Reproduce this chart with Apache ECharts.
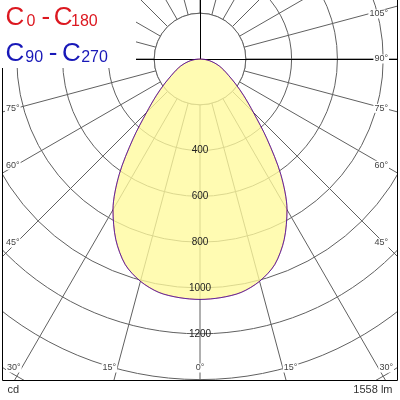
<!DOCTYPE html>
<html>
<head>
<meta charset="utf-8">
<script src="https://cdn.jsdelivr.net/npm/echarts@6/dist/echarts.min.js"></script>
<style>
html, body { margin: 0; padding: 0; background: #fff; }
#chart { width: 400px; height: 400px; }
</style>
</head>
<body>
<div id="chart"></div>
<script>
// gamma angle from nadir (deg) and luminous intensity (cd) per C-plane
const gammaAngles = [0, 5, 10, 15, 20, 25, 30, 35, 40, 45, 50, 55, 60, 65, 70, 75, 80, 85, 90];
const intensityC0 = [1050, 1046, 1035, 1005, 955, 870, 760, 615, 455, 330, 250, 190, 145, 115, 90, 65, 42, 20, 0];
const intensityC180 = [1050, 1046, 1035, 1005, 955, 870, 760, 615, 455, 330, 250, 190, 145, 115, 90, 65, 42, 20, 0];
const intensityC90 = [1050, 1046, 1035, 1005, 955, 870, 760, 615, 455, 330, 250, 190, 145, 115, 90, 65, 42, 20, 0];
const intensityC270 = [1050, 1046, 1035, 1005, 955, 870, 760, 615, 455, 330, 250, 190, 145, 115, 90, 65, 42, 20, 0];

// tick labels
const radiusLabels = [400, 600, 800, 1000, 1200];
const angleLabelsRight = [0, 15, 30, 45, 60, 75, 90, 105];
const angleLabelsLeft = [15, 30, 45, 60, 75];
const unitLabel = 'cd';
const fluxLabel = '1558 lm';

const CX = 200, CY = 59;
const PX_PER_CD = 0.229;
const R_MAX = 1700;
const GRID = '#606060';
const FONT = 'Liberation Sans, Arial, sans-serif';

// one C-plane pair -> closed outline: left half (360 - gamma) then right half
function plane(rightVals, leftVals) {
  const pts = [];
  for (let i = gammaAngles.length - 1; i > 0; i--) {
    pts.push([leftVals[i], 360 - gammaAngles[i]]);
  }
  for (let i = 0; i < gammaAngles.length; i++) {
    pts.push([rightVals[i], gammaAngles[i]]);
  }
  return pts;
}

const chart = echarts.init(document.getElementById('chart'));

const option = {
  animation: false,
  polar: { center: [CX, CY], radius: R_MAX * PX_PER_CD },
  angleAxis: {
    type: 'value', min: 0, max: 360, interval: 15,
    startAngle: 270, clockwise: false,
    axisLine: { show: false }, axisTick: { show: false }, axisLabel: { show: false },
    splitLine: { show: true, lineStyle: { color: GRID, width: 1 } }
  },
  radiusAxis: {
    type: 'value', min: 0, max: R_MAX, interval: 200,
    axisLine: { show: false }, axisTick: { show: false }, axisLabel: { show: false },
    splitLine: { show: true, lineStyle: { color: GRID, width: 1 } }
  },
  series: [
    {
      name: 'C0 - C180', type: 'line', coordinateSystem: 'polar',
      data: plane(intensityC0, intensityC180),
      symbol: 'none', smooth: 0.3, z: 2,
      lineStyle: { color: '#e00000', width: 1, opacity: 0.6 },
      areaStyle: { color: '#fffa9c', opacity: 0.78 }
    },
    {
      name: 'C90 - C270', type: 'line', coordinateSystem: 'polar',
      data: plane(intensityC90, intensityC270),
      symbol: 'none', smooth: 0.3, z: 3,
      lineStyle: { color: '#0000d0', width: 1, opacity: 0.6 }
    }
  ]
};
chart.setOption(option);

// graphic overlay: inner disk, main axes, frame, labels
const center = chart.convertToPixel({ seriesIndex: 0 }, [0, 0]);
const cx = center[0], cy = center[1];
const els = [];

els.push({ type: 'circle', z: 1, shape: { cx: cx, cy: cy, r: 200 * PX_PER_CD },
  style: { fill: '#fff', stroke: GRID, lineWidth: 1 } });
els.push({ type: 'line', z: 1, shape: { x1: 2, y1: cy + 0.5, x2: 397, y2: cy + 0.5 },
  style: { stroke: '#000', lineWidth: 1 } });
els.push({ type: 'line', z: 1, shape: { x1: cx + 0.5, y1: 0, x2: cx + 0.5, y2: cy },
  style: { stroke: '#000', lineWidth: 1 } });

// covers outside the frame
els.push({ type: 'rect', z: 10, shape: { x: 0, y: 381, width: 400, height: 19 }, style: { fill: '#fff' } });
els.push({ type: 'rect', z: 10, shape: { x: 0, y: 0, width: 2, height: 400 }, style: { fill: '#fff' } });
els.push({ type: 'rect', z: 10, shape: { x: 398, y: 0, width: 2, height: 400 }, style: { fill: '#fff' } });
// frame
els.push({ type: 'polyline', z: 11, shape: { points: [[2.5, 0], [2.5, 380.5], [397.5, 380.5], [397.5, 0]] },
  style: { fill: 'none', stroke: '#000', lineWidth: 1 } });

// radius labels on the nadir axis
radiusLabels.forEach(function (v) {
  const p = chart.convertToPixel({ seriesIndex: 0 }, [v, 0]);
  els.push({ type: 'text', z: 12, x: p[0], y: p[1],
    style: { text: String(v), font: '10px ' + FONT, fill: '#222',
      align: 'center', verticalAlign: 'middle', textAlign: 'center', textVerticalAlign: 'middle' } });
});

// angle labels where the rays meet the frame
const BOTTOM_Y = 368, SIDE_D = 184;
function angleLabel(a, side) {
  const rad = a * Math.PI / 180;
  const s = Math.sin(rad), c = Math.cos(rad);
  const tb = c > 1e-6 ? (BOTTOM_Y - cy) / c : Infinity;
  const ts = s > 1e-6 ? SIDE_D / s : Infinity;
  let x, y, align;
  if (tb <= ts) {
    x = cx + side * tb * s; y = BOTTOM_Y;
    align = a === 0 ? 'center' : (side > 0 ? 'left' : 'right');
  } else {
    x = side > 0 ? 389 : 5;
    y = Math.max(cy + ts * c, 14);
    align = side > 0 ? 'right' : 'left';
  }
  els.push({ type: 'text', z: 12, x: x, y: y,
    style: { text: a + '°', font: '9px ' + FONT, fill: '#444', backgroundColor: '#fff', padding: [0, 1],
      align: align, verticalAlign: 'middle', textAlign: align, textVerticalAlign: 'middle' } });
}
angleLabelsRight.forEach(function (a) { angleLabel(a, 1); });
angleLabelsLeft.forEach(function (a) { angleLabel(a, -1); });

// legend box
els.push({ type: 'rect', z: 12, shape: { x: 0, y: 0, width: 136, height: 68 }, style: { fill: '#fff' } });
function legendPart(text, x, y, size, color) {
  els.push({ type: 'text', z: 13, x: x, y: y,
    style: { text: text, font: size + 'px ' + FONT, fill: color,
      align: 'left', verticalAlign: 'middle', textAlign: 'left', textVerticalAlign: 'middle' } });
}
const RED = '#dc1820', BLUE = '#1818b8';
legendPart('C', 5.4, 17.7, 26, RED);
legendPart('0', 26.6, 21.2, 16, RED);
legendPart('-', 41.5, 17.7, 26, RED);
legendPart('C', 53.7, 17.7, 26, RED);
legendPart('180', 71, 21.2, 16, RED);
legendPart('C', 5.4, 53.7, 26, BLUE);
legendPart('90', 25.3, 57.2, 16, BLUE);
legendPart('-', 48.8, 53.7, 26, BLUE);
legendPart('C', 62, 53.7, 26, BLUE);
legendPart('270', 81.2, 57.2, 16, BLUE);

// footer
els.push({ type: 'text', z: 13, x: 7.5, y: 390,
  style: { text: unitLabel, font: '11px ' + FONT, fill: '#333',
    align: 'left', verticalAlign: 'middle', textAlign: 'left', textVerticalAlign: 'middle' } });
els.push({ type: 'text', z: 13, x: 392.5, y: 390,
  style: { text: fluxLabel, font: '11px ' + FONT, fill: '#333',
    align: 'right', verticalAlign: 'middle', textAlign: 'right', textVerticalAlign: 'middle' } });

chart.setOption({ graphic: { elements: els } });

window.addEventListener('resize', function () {
  chart.resize();
});
</script>
</body>
</html>
